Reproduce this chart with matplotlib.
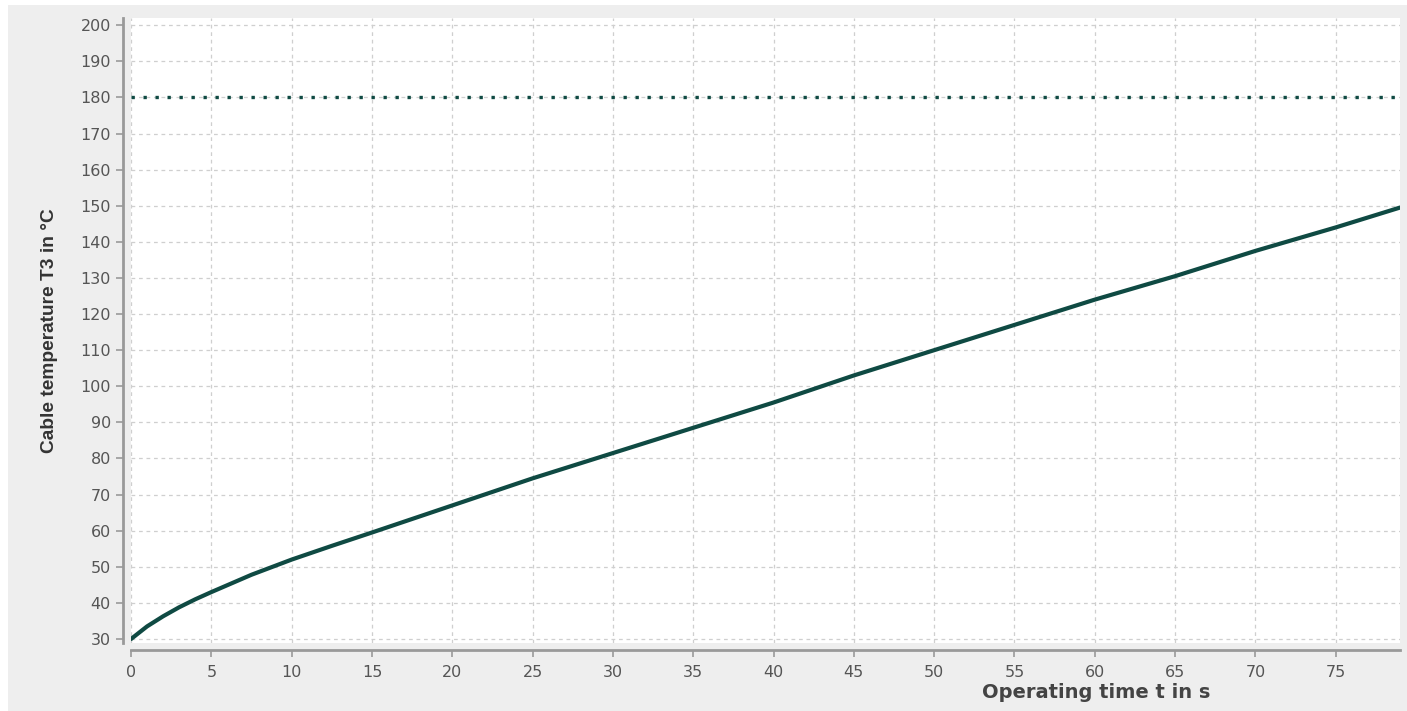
import matplotlib
matplotlib.use("Agg")
import matplotlib.pyplot as plt
from matplotlib.patches import Rectangle

# operating time (s) and cable temperature T3 (°C)
time_s = [0, 1, 2, 3, 4, 5, 7.5, 10, 12.5, 15, 20, 25, 30, 35, 40, 45, 50,
          55, 60, 65, 70, 75, 79]
temp_c = [30, 33.5, 36.3, 38.8, 41.0, 43.0, 47.8, 52.0, 55.8, 59.5, 67.0,
          74.5, 81.5, 88.5, 95.5, 103.0, 110.0, 117.0, 124.0, 130.5, 137.5,
          144.0, 149.5]
limit_c = 180
x_ticks = list(range(0, 80, 5))
y_ticks = list(range(30, 201, 10))

LINE = "#0f4a43"
GRAY_BG = "#eeeeee"
TICK = "#555555"

fig = plt.figure(figsize=(14.07, 7.11), dpi=100)
fig.patch.set_facecolor("white")
fig.add_artist(Rectangle((8 / 1407, 0), 1, 1 - 5 / 711, transform=fig.transFigure,
                         facecolor=GRAY_BG, edgecolor="none", zorder=-10))

ax = fig.add_axes([131 / 1407, 1 - 643 / 711, (1400 - 131) / 1407, (643 - 18) / 711])
ax.set_facecolor("white")
ax.plot(time_s, temp_c, color=LINE, lw=3.0, solid_capstyle="round", zorder=3)
ax.axhline(limit_c, color=LINE, lw=2.4, linestyle=(0, (1, 2.6)), zorder=3)

ax.set_xlim(0, 79.0)
ax.set_ylim(28.9, 202)
ax.set_xticks(x_ticks)
ax.set_yticks(y_ticks)
ax.grid(True, color="#cfcfcf", lw=0.9, linestyle=(0, (3, 3)))
ax.set_axisbelow(True)

for s in ("top", "right"):
    ax.spines[s].set_visible(False)
ax.spines["left"].set_position(("outward", 6))
ax.spines["bottom"].set_position(("outward", 5))
for s in ("left", "bottom"):
    ax.spines[s].set_color("#999999")
    ax.spines[s].set_linewidth(2)
ax.tick_params(axis="both", colors="#999999", length=5, width=1.2,
               labelcolor=TICK, labelsize=11.5)
ax.tick_params(axis="x", pad=6)

ax.set_ylabel("Cable temperature T3 in °C", fontsize=13.8, fontweight="bold",
              color="#333333", family=["Liberation Sans", "DejaVu Sans"],
              labelpad=16)
fig.text(1210 / 1407, 1 - 693 / 711, "Operating time t in s", ha="right", va="center",
         fontsize=14, fontweight="bold", color="#444444")

fig.savefig("out.png", dpi=100)
